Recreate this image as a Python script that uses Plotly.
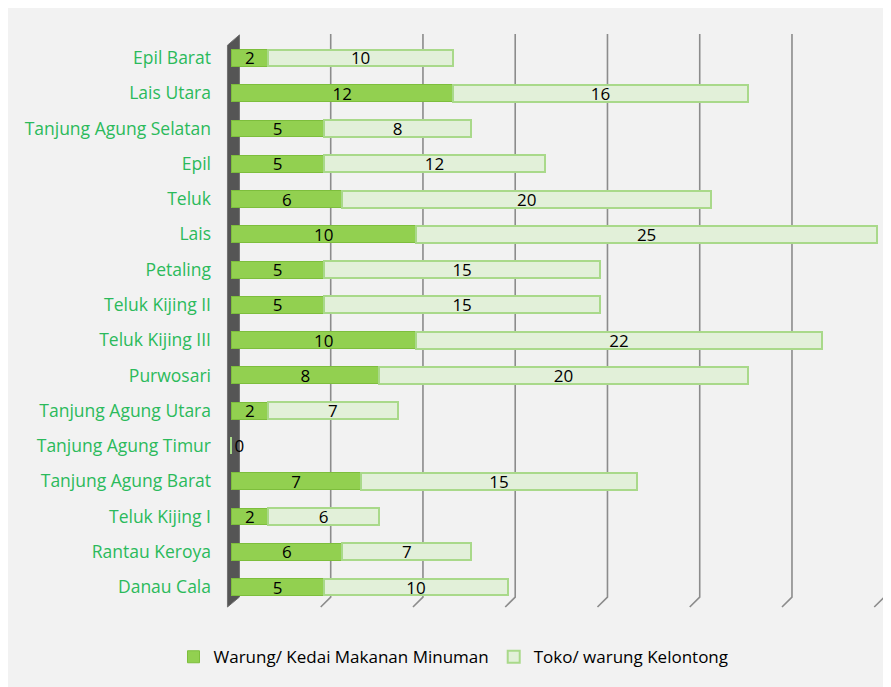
import plotly.graph_objects as go

villages = [
    "Epil Barat", "Lais Utara", "Tanjung Agung Selatan", "Epil", "Teluk", "Lais",
    "Petaling", "Teluk Kijing II", "Teluk Kijing III", "Purwosari",
    "Tanjung Agung Utara", "Tanjung Agung Timur", "Tanjung Agung Barat",
    "Teluk Kijing I", "Rantau Keroya", "Danau Cala",
]
warung = [2, 12, 5, 5, 6, 10, 5, 5, 10, 8, 2, 0, 7, 2, 6, 5]
toko = [10, 16, 8, 12, 20, 25, 15, 15, 22, 20, 7, 0, 15, 6, 7, 10]
grid_ticks = [5, 10, 15, 20, 25, 30, 35]

label_font = dict(family="Open Sans", size=17, color="#000000")

fig = go.Figure()
fig.add_trace(go.Bar(
    y=villages, x=warung, orientation="h", name="Warung/ Kedai Makanan Minuman",
    marker=dict(color="#92D050", line=dict(color="#7DBE3C", width=1)),
    text=[str(v) if v else "" for v in warung],
    textposition="inside", insidetextanchor="middle", constraintext="none",
    textangle=0, insidetextfont=label_font,
))
fig.add_trace(go.Bar(
    y=villages, x=toko, orientation="h", name="Toko/ warung Kelontong",
    marker=dict(color="#E2F0D9", line=dict(color="#A9D98A", width=2)),
    text=[str(v) for v in toko],
    textposition=["inside" if v else "outside" for v in toko],
    insidetextanchor="middle", constraintext="none", textangle=0,
    insidetextfont=label_font, outsidetextfont=label_font, cliponaxis=False,
))

# 3D look: back-wall gridlines shifted right with a slanted foot, dark side wall
px = 1 / 18.47  # one pixel in x units
shapes = []
for t in grid_ticks:
    shapes.append(dict(
        type="path", xref="x", yref="paper",
        path=f"M {t + 7 * px},0.9965 L {t + 7 * px},0.019 L {t - 3 * px},0.0017",
        line=dict(color="#8C8C8C", width=1.6), layer="below"))
shapes.append(dict(
    type="path", xref="x", yref="paper",
    path=(f"M {-4 * px},0.0017 L {-4 * px},0.977 L {8 * px},0.995 "
          f"L {8 * px},0.019 Z"),
    fillcolor="#555555", line=dict(color="#707070", width=1), layer="below"))

fig.update_layout(
    width=891, height=687,
    barmode="stack", bargap=0.52,
    paper_bgcolor="#F2F2F2", plot_bgcolor="#F2F2F2",
    margin=dict(l=216.5, r=6.8, t=24, b=87),
    font=dict(family="Open Sans", size=17, color="#000000"),
    showlegend=True,
    shapes=shapes,
    legend=dict(orientation="h", xref="container", x=0.5, xanchor="center",
                yref="container", y=0.055, yanchor="middle",
                font=dict(size=17, color="#000000"), traceorder="normal"),
    xaxis=dict(range=[-0.35, 35.8], showgrid=False, showticklabels=False,
               zeroline=False, showline=False, fixedrange=True),
    yaxis=dict(categoryorder="array", categoryarray=villages,
               range=[15.595, -0.737], showline=False, showgrid=False,
               tickfont=dict(color="#2BBA5B", size=17.5), ticks="",
               ticklabelstandoff=13),
)
fig.write_html("out.html")
